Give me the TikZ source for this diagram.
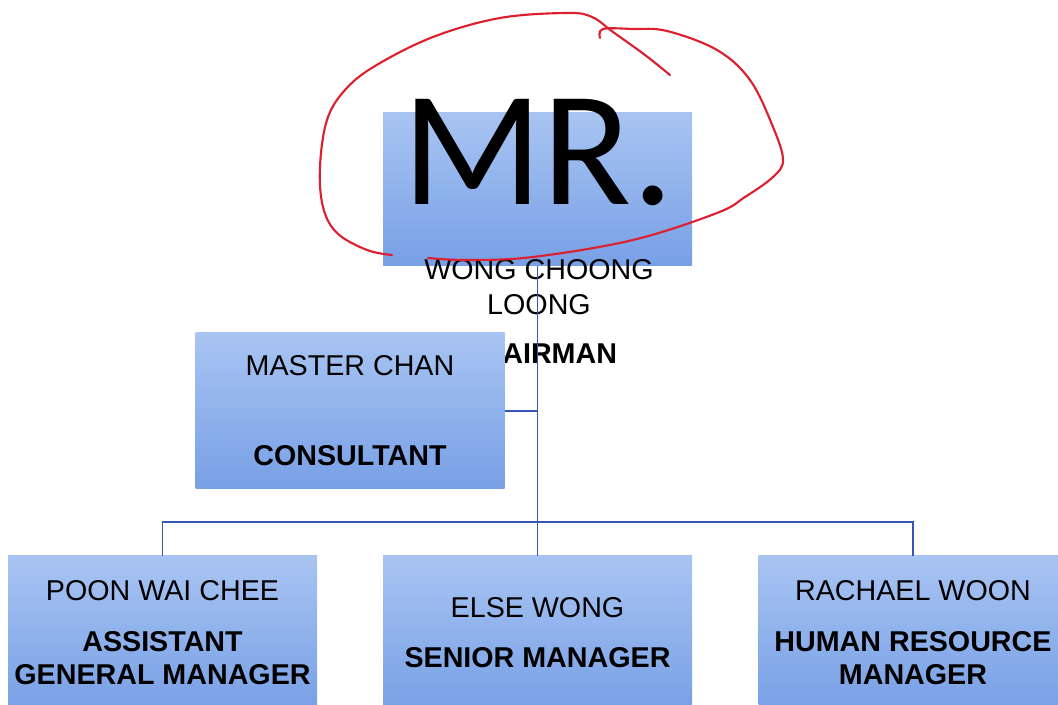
\documentclass[tikz,border=0pt]{standalone}
\usepackage{fontspec}
\setmainfont{Liberation Sans}
\newfontfamily\mrfont{Carlito}
\usepackage{tikz}
\definecolor{boxtop}{HTML}{A8C4F2}
\definecolor{boxbot}{HTML}{78A0E6}
\definecolor{linkblue}{HTML}{3556B4}
\definecolor{penred}{HTML}{DC2030}

\begin{document}
\begin{tikzpicture}[x=0.75pt, y=-0.75pt,
    box/.style = {rectangle, top color=boxtop, bottom color=boxbot, draw=none,
                  minimum width=231.75pt, minimum height=114.75pt, inner sep=0pt,
                  align=center, font=\fontsize{21.5}{24.75}\selectfont},
    link/.style = {draw=linkblue, line width=1.4pt},
    pen/.style = {draw=penred, line width=1.6pt, line cap=round, line join=round}]
    \useasboundingbox (0,0) rectangle (1058,705);
    \clip (0,0) rectangle (1058,705);
    % chairman
    \node[box] (chair) at (537.5,189.5) {};
    \node[anchor=base, inner sep=0pt, font=\mrfont\fontsize{123}{130}\selectfont] (mr) at (538,205) {MR.};
    \node[anchor=north, inner sep=0pt, align=center, font=\fontsize{21.5}{26.25}\selectfont] (chairname) at (539,259)
        {WONG CHOONG\\LOONG\\[10.5pt]\textbf{CHAIRMAN}};
    % managers
    \node[box] (gm) at (162.5,632.5) {POON WAI CHEE\\[13.5pt]\textbf{ASSISTANT}\\\textbf{GENERAL MANAGER}};
    \node[box] (sm) at (537.5,632.5) {ELSE WONG\\[12.75pt]\textbf{SENIOR MANAGER}};
    \node[box] (hr) at (913,632.5) {RACHAEL WOON\\[13.5pt]\textbf{HUMAN RESOURCE}\\\textbf{MANAGER}};
    \draw[link] (chair.south) -- (sm.north);
    \draw[link] (gm.north) -- ++(0,-34) -| (hr.north);
    % consultant
    \node[box, minimum height=117pt] (cons) at (350,411) {MASTER CHAN\\[42.75pt]\textbf{CONSULTANT}};
    \draw[link] (cons.east) -- (cons.east -| chair.south);
    % red pen loop
    \draw[pen] plot[smooth, tension=0.6] coordinates {(392,255) (367,250) (337,233) (323,207) (320,167)
        (327,120) (345,90) (375,66) (433,37) (500,18) (567,13) (592,17) (613,32) (645,55) (670,75)};
    \draw[pen] plot[smooth, tension=0.6] coordinates {(600,38) (603,29) (633,29) (667,31) (717,50)
        (750,80) (773,127) (783,160) (773,177) (745,197) (717,213) (633,240) (533,257) (467,260) (428,258)};
\end{tikzpicture}
\end{document}
